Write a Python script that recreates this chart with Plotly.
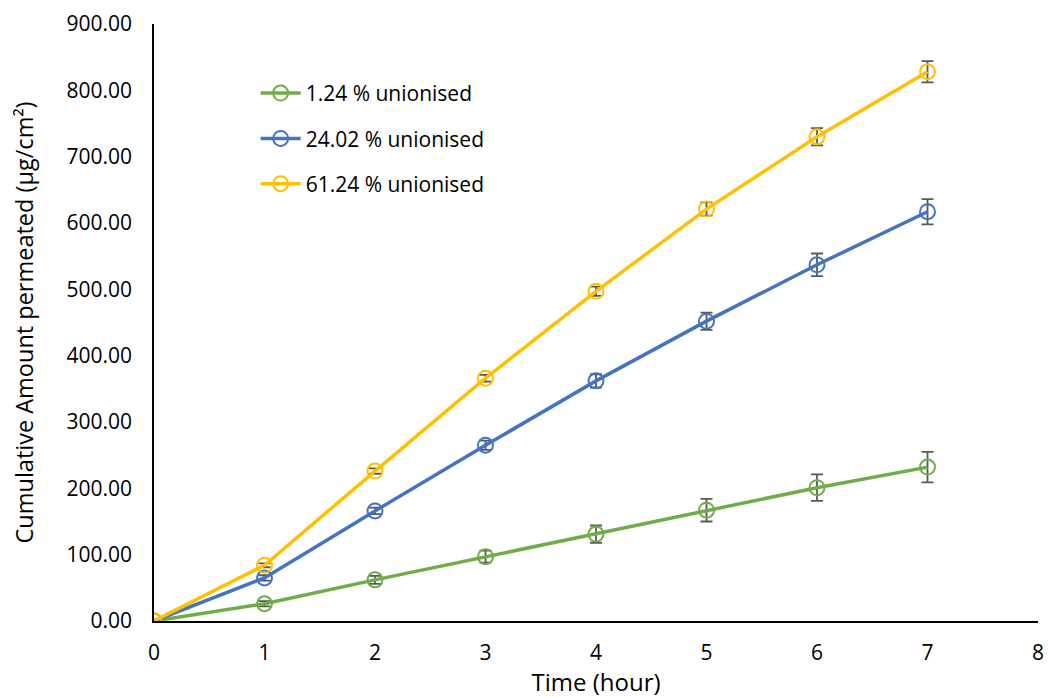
import plotly.graph_objects as go

time_h = [0, 1, 2, 3, 4, 5, 6, 7]

names = ["1.24 % unionised", "24.02 % unionised", "61.24 % unionised"]
green_vals = [0, 26, 62, 97, 131, 167, 201, 232]
green_err = [0, 4, 6, 9, 13, 17, 20, 23]
blue_vals = [0, 65, 166, 265, 362, 452, 537, 617]
blue_err = [0, 4, 5, 7, 10, 13, 17, 19]
yellow_vals = [0, 84, 226, 366, 497, 621, 730, 828]
yellow_err = [0, 3, 4, 5, 7, 10, 13, 16]

colors = ["#70AD47", "#4472C4", "#FFC000"]
series = [green_vals, blue_vals, yellow_vals]
errors = [green_err, blue_err, yellow_err]

fig = go.Figure()
for i, (nm, vals, err, col) in enumerate(zip(names, series, errors, colors)):
    fig.add_trace(go.Scatter(
        x=time_h, y=vals, name=nm, mode="lines+markers",
        legendgroup=f"g{i}",
        line=dict(color=col, width=3.5),
        marker=dict(symbol="circle-open", size=15, color=col, line=dict(width=2, color=col)),
        error_y=dict(type="data", array=err, visible=True, color="#595959", thickness=1.8, width=6),
    ))

# page body has an 8px margin, so the figure is sized/offset to compensate
font_family = "Open Sans, Liberation Sans, sans-serif"
fig.update_layout(
    width=1043, height=690,
    margin=dict(l=146, r=13, t=16, b=77),
    paper_bgcolor="white", plot_bgcolor="white",
    font=dict(family=font_family, size=21, color="#000000"),
    showlegend=True,
    legend=dict(x=0.115, y=0.918, xanchor="left", yanchor="top",
                bgcolor="rgba(0,0,0,0)", font=dict(size=21),
                tracegroupgap=15, itemwidth=40),
    xaxis=dict(range=[0, 8], tickvals=list(range(0, 9)), showline=True, linecolor="black",
               linewidth=1.5, showgrid=False, zeroline=False,
               ticks="outside", ticklen=12, tickcolor="rgba(0,0,0,0)",
               automargin=False, ticklabeloverflow="allow",
               title=dict(text="Time (hour)", font=dict(size=24), standoff=12),
               tickfont=dict(size=21)),
    yaxis=dict(range=[0, 900], tickvals=list(range(0, 901, 100)), tickformat=".2f",
               showline=True, linecolor="black", linewidth=1.5, showgrid=False,
               zeroline=False, ticks="outside", ticklen=16, tickcolor="rgba(0,0,0,0)",
               automargin=False, ticklabeloverflow="allow",
               title=dict(text="Cumulative Amount permeated (µg/cm²)", font=dict(size=23.5), standoff=28),
               tickfont=dict(size=21)),
)

fig.write_html("out.html")
